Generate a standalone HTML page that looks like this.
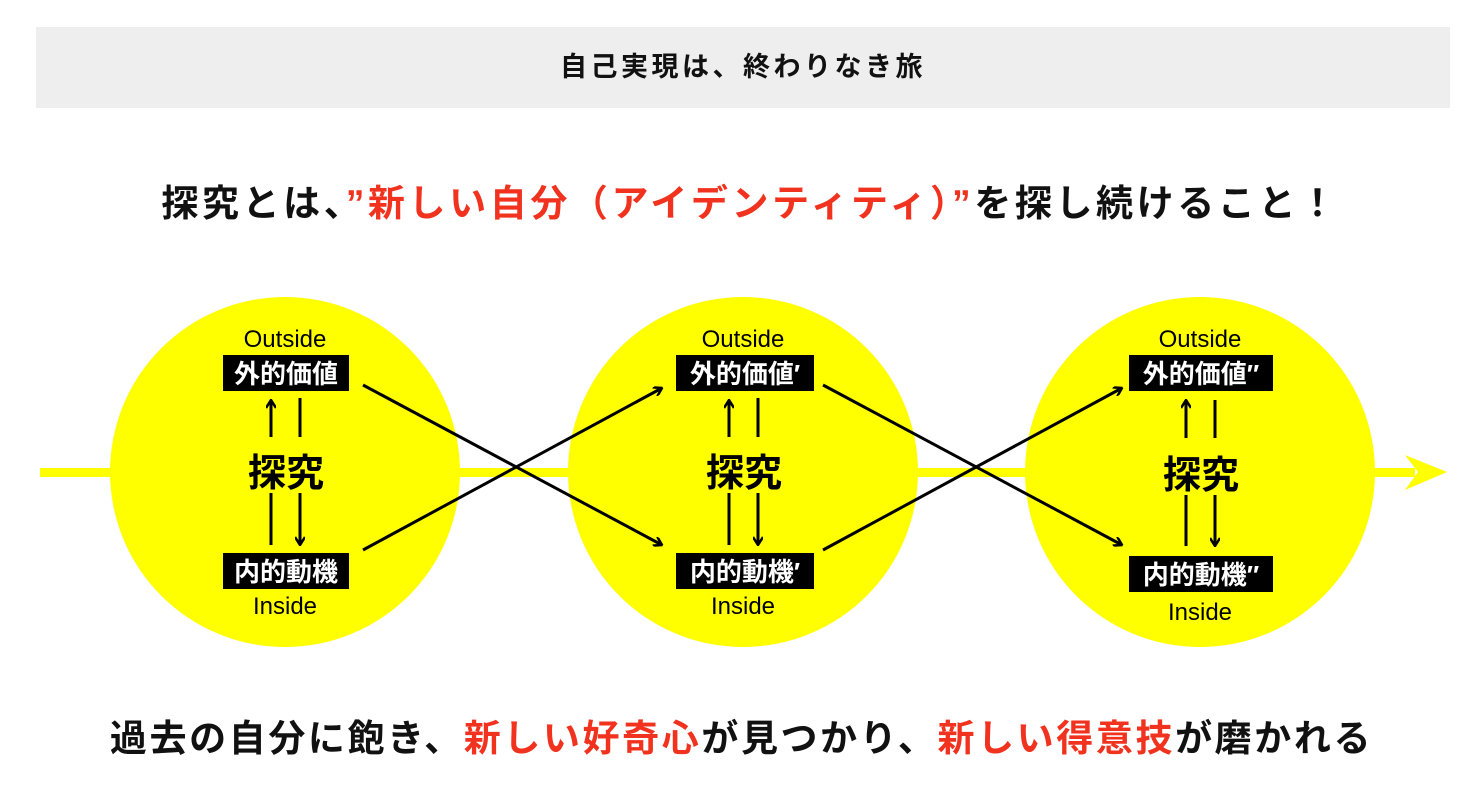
<!DOCTYPE html>
<html><head><meta charset="utf-8"><style>
body{margin:0;width:1483px;height:789px;background:#fff;position:relative;overflow:hidden;font-family:"Liberation Sans","Noto Sans CJK JP",sans-serif}
.hdr{position:absolute;left:36px;top:27px;width:1414px;height:81px;background:#efeeef;text-align:center;line-height:81px;font-size:27px;font-weight:bold;color:#111;letter-spacing:3.5px}
.t{position:absolute;left:0;width:1483px;text-align:center;font-weight:bold;font-size:37px;color:#111;white-space:nowrap}
.r{color:#f0321e}
svg{position:absolute;left:0;top:0}
</style></head><body>
<div class="hdr">自己実現は、終わりなき旅</div>
<div class="t" style="top:173px;letter-spacing:3.6px;padding-left:18px;box-sizing:border-box">探究とは、<span class="r">”新しい自分（アイデンティティ）”</span>を探し続けること！</div>
<div class="t" style="top:708px;letter-spacing:2.6px">過去の自分に飽き、<span class="r">新しい好奇心</span>が見つかり、<span class="r">新しい得意技</span>が磨かれる</div>
<svg width="1483" height="789" font-family="Liberation Sans, Noto Sans CJK JP, sans-serif">
<defs><marker id="a" markerWidth="10" markerHeight="10" refX="9" refY="5" orient="auto" markerUnits="userSpaceOnUse"><path d="M1,0 L9,5 L1,10" fill="none" stroke="#000" stroke-width="2.5"/></marker></defs>
<rect x="40" y="468" width="1375" height="9" fill="#ffff00"/>
<polygon points="1405,455 1447,472 1405,490 1418,472" fill="#ffff00"/>
<circle cx="285" cy="472" r="175" fill="#ffff00"/>
<circle cx="743" cy="472" r="175" fill="#ffff00"/>
<circle cx="1200" cy="472" r="175" fill="#ffff00"/>
<g stroke="#000" stroke-width="3">
<line x1="363" y1="385" x2="662" y2="545" marker-end="url(#a)"/>
<line x1="363" y1="550" x2="662" y2="388" marker-end="url(#a)"/>
<line x1="823" y1="385" x2="1122" y2="545" marker-end="url(#a)"/>
<line x1="823" y1="550" x2="1122" y2="388" marker-end="url(#a)"/>
</g>
<g>
<text x="285" y="347" text-anchor="middle" font-size="24">Outside</text>
<rect x="223" y="355" width="126" height="36" fill="#000"/>
<text x="286" y="383" text-anchor="middle" font-size="26" font-weight="bold" fill="#fff">外的価値</text>
<g stroke="#000" stroke-width="3"><line x1="271" y1="437" x2="271" y2="400" marker-end="url(#a)"/><line x1="300" y1="398" x2="300" y2="437"/><line x1="271" y1="493" x2="271" y2="545"/><line x1="300" y1="493" x2="300" y2="545" marker-end="url(#a)"/></g>
<text x="286" y="486" text-anchor="middle" font-size="38" font-weight="bold">探究</text>
<rect x="223" y="553" width="126" height="36" fill="#000"/>
<text x="286" y="581" text-anchor="middle" font-size="26" font-weight="bold" fill="#fff">内的動機</text>
<text x="285" y="614" text-anchor="middle" font-size="24">Inside</text>
</g>
<g>
<text x="743" y="347" text-anchor="middle" font-size="24">Outside</text>
<rect x="676" y="355" width="138" height="36" fill="#000"/>
<text x="745" y="383" text-anchor="middle" font-size="26" font-weight="bold" fill="#fff">外的価値′</text>
<g stroke="#000" stroke-width="3"><line x1="729" y1="437" x2="729" y2="400" marker-end="url(#a)"/><line x1="758" y1="398" x2="758" y2="437"/><line x1="729" y1="493" x2="729" y2="545"/><line x1="758" y1="493" x2="758" y2="545" marker-end="url(#a)"/></g>
<text x="744" y="486" text-anchor="middle" font-size="38" font-weight="bold">探究</text>
<rect x="676" y="553" width="138" height="36" fill="#000"/>
<text x="745" y="581" text-anchor="middle" font-size="26" font-weight="bold" fill="#fff">内的動機′</text>
<text x="743" y="614" text-anchor="middle" font-size="24">Inside</text>
</g>
<g>
<text x="1200" y="347" text-anchor="middle" font-size="24">Outside</text>
<rect x="1129" y="355" width="144" height="36" fill="#000"/>
<text x="1201" y="383" text-anchor="middle" font-size="26" font-weight="bold" fill="#fff">外的価値″</text>
<g stroke="#000" stroke-width="3"><line x1="1186" y1="438" x2="1186" y2="400" marker-end="url(#a)"/><line x1="1215" y1="400" x2="1215" y2="438"/><line x1="1186" y1="495" x2="1186" y2="546"/><line x1="1215" y1="495" x2="1215" y2="546" marker-end="url(#a)"/></g>
<text x="1201" y="488" text-anchor="middle" font-size="38" font-weight="bold">探究</text>
<rect x="1129" y="556" width="144" height="36" fill="#000"/>
<text x="1201" y="584" text-anchor="middle" font-size="26" font-weight="bold" fill="#fff">内的動機″</text>
<text x="1200" y="620" text-anchor="middle" font-size="24">Inside</text>
</g>
</svg>
</body></html>
